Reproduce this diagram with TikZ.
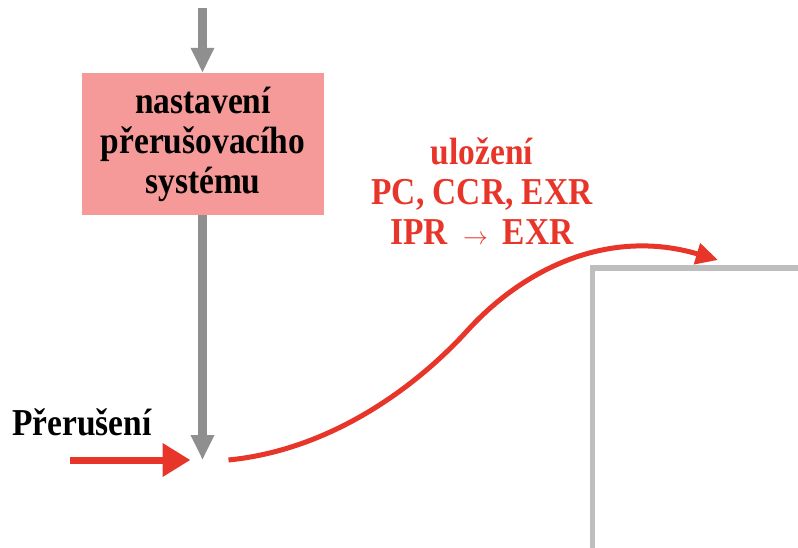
\documentclass[tikz,border=0pt]{standalone}
\usepackage{fontspec}
\setmainfont{Liberation Serif}
\newfontfamily\labelfont[FakeStretch=0.88]{Liberation Serif}
\newfontfamily\savefont[FakeStretch=0.88]{Liberation Serif}
\usetikzlibrary{arrows.meta,positioning}
\definecolor{boxpink}{HTML}{F59A98}
\definecolor{irqred}{HTML}{E8352A}
\definecolor{flowgrey}{HTML}{8F8F8F}
\definecolor{framegrey}{HTML}{BEBEBE}
\tikzset{
	bigtext/.style={font=\labelfont\fontsize{38}{40}\selectfont\bfseries, align=center, inner sep=0pt},
	setupbox/.style={bigtext, fill=boxpink, minimum width=242pt, minimum height=142pt},
	savetext/.style={bigtext, font=\savefont\fontsize{38}{40}\selectfont\bfseries, text=irqred},
	flow/.style={draw=flowgrey, line width=9pt, -{Triangle[width=22pt,length=25pt]}},
	irqarrow/.style={draw=irqred, line width=7pt, -{Triangle[width=32pt,length=28pt]}},
	savearrow/.style={draw=irqred, line width=5pt, -{Triangle[width=21pt,length=22pt]}},
	frame/.style={draw=framegrey, line width=5pt}
}
\begin{document}
\begin{tikzpicture}[x=1pt,y=-1pt]
	\useasboundingbox (0,0) rectangle (798,548);

	\coordinate (feed) at (202.5,8);
	\coordinate (junction) at (202.5,460);
	\coordinate (irq) at (70,460);
	\coordinate (save) at (718,260);

	\node [setupbox] (setup) at (203,144) {nastavení\\přerušovacího\\systému};
	\draw [flow] (feed) -- (setup.north -| feed);
	\draw [flow] (setup.south -| feed) -- (junction);

	\node [bigtext, anchor=base west] (irqtext) at (12,435) {Přerušení};
	\draw [irqarrow] (irq) -- ([xshift=-12pt]junction);

	% ulozeni kontextu
	\draw [savearrow] ([xshift=26pt]junction)
		.. controls (330,450) and (415,388) .. (467,331)
		.. controls (525,267) and (610,228) .. (save);
	\node [savetext] (savelabel) at (482,191) {uložení\\PC, CCR, EXR\\IPR\hspace{15pt}{\fontsize{26}{26}\selectfont$\rightarrow$}\hspace{15pt}EXR};

	\draw [frame] (592,548) |- (798,268);
\end{tikzpicture}
\end{document}
